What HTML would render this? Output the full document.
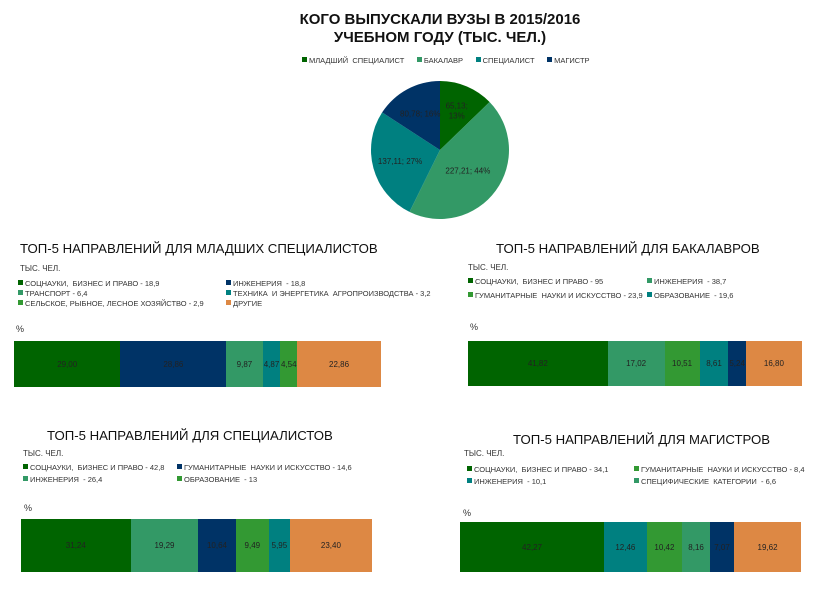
<!DOCTYPE html>
<html><head><meta charset="utf-8">
<style>
body{margin:0;width:823px;height:600px;background:#fff;position:relative;overflow:hidden;font-family:"Liberation Sans","DejaVu Sans",sans-serif;color:#222}
.abs{position:absolute;white-space:nowrap}
.title{font-weight:bold;font-size:15px;text-align:center;width:400px;left:240px;color:#111}
.ct{font-size:13.2px;color:#111}
.small{font-size:7.5px;color:#333}
.sq{display:inline-block;width:5px;height:5px;margin-right:2px;vertical-align:1px}
.bar{position:absolute;display:flex;align-items:center;justify-content:center;font-size:8px;color:#222}
</style></head><body>
<div class="abs title" style="top:11px">КОГО ВЫПУСКАЛИ ВУЗЫ В 2015/2016</div>
<div class="abs title" style="top:29px">УЧЕБНОМ ГОДУ (ТЫС. ЧЕЛ.)</div>
<div class="abs small" style="left:302px;top:56px">
<span><span class="sq" style="background:#006400"></span>МЛАДШИЙ&nbsp; СПЕЦИАЛИСТ</span>&nbsp;&nbsp;&nbsp;&nbsp;&nbsp;
<span><span class="sq" style="background:#339966"></span>БАКАЛАВР</span>&nbsp;&nbsp;&nbsp;&nbsp;&nbsp;
<span><span class="sq" style="background:#008080"></span>СПЕЦИАЛИСТ</span>&nbsp;&nbsp;&nbsp;&nbsp;&nbsp;
<span><span class="sq" style="background:#003366"></span>МАГИСТР</span>
</div>
<svg class="abs" style="left:0;top:0" width="823" height="240" id="pie"></svg>

<div class="abs ct" style="left:20px;top:241px">ТОП-5 НАПРАВЛЕНИЙ ДЛЯ МЛАДШИХ СПЕЦИАЛИСТОВ</div>
<div class="abs small" style="left:20px;top:264px;font-size:8px">ТЫС. ЧЕЛ.</div>
<div class="abs small" style="left:18px;top:279px"><span class="sq" style="background:#006400"></span>СОЦНАУКИ,&nbsp; БИЗНЕС И ПРАВО - 18,9</div>
<div class="abs small" style="left:226px;top:279px"><span class="sq" style="background:#003366"></span>ИНЖЕНЕРИЯ&nbsp; - 18,8</div>
<div class="abs small" style="left:18px;top:289px"><span class="sq" style="background:#339966"></span>ТРАНСПОРТ - 6,4</div>
<div class="abs small" style="left:226px;top:289px"><span class="sq" style="background:#008080"></span>ТЕХНИКА&nbsp; И ЭНЕРГЕТИКА&nbsp; АГРОПРОИЗВОДСТВА - 3,2</div>
<div class="abs small" style="left:18px;top:299px"><span class="sq" style="background:#339933"></span>СЕЛЬСКОЕ, РЫБНОЕ, ЛЕСНОЕ ХОЗЯЙСТВО - 2,9</div>
<div class="abs small" style="left:226px;top:299px"><span class="sq" style="background:#dd8844"></span>ДРУГИЕ</div>
<div class="abs small" style="left:16px;top:324px;font-size:9px">%</div>

<div class="abs ct" style="left:496px;top:241px">ТОП-5 НАПРАВЛЕНИЙ ДЛЯ БАКАЛАВРОВ</div>
<div class="abs small" style="left:468px;top:263px;font-size:8px">ТЫС. ЧЕЛ.</div>
<div class="abs small" style="left:468px;top:277px"><span class="sq" style="background:#006400"></span>СОЦНАУКИ,&nbsp; БИЗНЕС И ПРАВО - 95</div>
<div class="abs small" style="left:647px;top:277px"><span class="sq" style="background:#339966"></span>ИНЖЕНЕРИЯ&nbsp; - 38,7</div>
<div class="abs small" style="left:468px;top:291px"><span class="sq" style="background:#339933"></span>ГУМАНИТАРНЫЕ&nbsp; НАУКИ И ИСКУССТВО - 23,9</div>
<div class="abs small" style="left:647px;top:291px"><span class="sq" style="background:#008080"></span>ОБРАЗОВАНИЕ&nbsp; - 19,6</div>
<div class="abs small" style="left:470px;top:322px;font-size:9px">%</div>

<div class="abs ct" style="left:47px;top:428px">ТОП-5 НАПРАВЛЕНИЙ ДЛЯ СПЕЦИАЛИСТОВ</div>
<div class="abs small" style="left:23px;top:449px;font-size:8px">ТЫС. ЧЕЛ.</div>
<div class="abs small" style="left:23px;top:463px"><span class="sq" style="background:#006400"></span>СОЦНАУКИ,&nbsp; БИЗНЕС И ПРАВО - 42,8</div>
<div class="abs small" style="left:177px;top:463px"><span class="sq" style="background:#003366"></span>ГУМАНИТАРНЫЕ&nbsp; НАУКИ И ИСКУССТВО - 14,6</div>
<div class="abs small" style="left:23px;top:475px"><span class="sq" style="background:#339966"></span>ИНЖЕНЕРИЯ&nbsp; - 26,4</div>
<div class="abs small" style="left:177px;top:475px"><span class="sq" style="background:#339933"></span>ОБРАЗОВАНИЕ&nbsp; - 13</div>
<div class="abs small" style="left:24px;top:503px;font-size:9px">%</div>

<div class="abs ct" style="left:513px;top:432px">ТОП-5 НАПРАВЛЕНИЙ ДЛЯ МАГИСТРОВ</div>
<div class="abs small" style="left:464px;top:449px;font-size:8px">ТЫС. ЧЕЛ.</div>
<div class="abs small" style="left:467px;top:465px"><span class="sq" style="background:#006400"></span>СОЦНАУКИ,&nbsp; БИЗНЕС И ПРАВО - 34,1</div>
<div class="abs small" style="left:634px;top:465px"><span class="sq" style="background:#339933"></span>ГУМАНИТАРНЫЕ&nbsp; НАУКИ И ИСКУССТВО - 8,4</div>
<div class="abs small" style="left:467px;top:477px"><span class="sq" style="background:#008080"></span>ИНЖЕНЕРИЯ&nbsp; - 10,1</div>
<div class="abs small" style="left:634px;top:477px"><span class="sq" style="background:#339966"></span>СПЕЦИФИЧЕСКИЕ&nbsp; КАТЕГОРИИ&nbsp; - 6,6</div>
<div class="abs small" style="left:463px;top:508px;font-size:9px">%</div>

<script>
const pieLabels = ["65,13;|13%","227,21; 44%","137,11; 27%","80,78; 16%"];
const pieValues = [65.13, 227.21, 137.11, 80.78];
const bar1Values = [29.00, 28.86, 9.87, 4.87, 4.54, 22.86];
const bar2Values = [41.82, 17.02, 10.51, 8.61, 5.24, 16.80];
const bar3Values = [31.24, 19.29, 10.64, 9.49, 5.95, 23.40];
const bar4Values = [42.27, 12.46, 10.42, 8.16, 7.07, 19.62];

const G="#006400",SG="#339966",T="#008080",N="#003366",LG="#339933",O="#dd8844";
const pieColors=[G,SG,T,N];
const svg=document.getElementById('pie');
const NS='http://www.w3.org/2000/svg';
const cx=440,cy=150,R=69;
const tot=pieValues.reduce((a,b)=>a+b,0);
let a0=-Math.PI/2;
pieValues.forEach((v,i)=>{
  const frac=v/tot;
  const a1=a0+frac*2*Math.PI;
  const x0=cx+R*Math.cos(a0),y0=cy+R*Math.sin(a0),x1=cx+R*Math.cos(a1),y1=cy+R*Math.sin(a1);
  const p=document.createElementNS(NS,'path');
  p.setAttribute('d',`M${cx},${cy}L${x0},${y0}A${R},${R} 0 ${a1-a0>Math.PI?1:0} 1 ${x1},${y1}Z`);
  p.setAttribute('fill',pieColors[i]);
  
  
  svg.appendChild(p);
  const am=(a0+a1)/2, lr=R*(frac<0.15?0.62:(frac>0.4?0.5:0.6));
  const lx=cx+lr*Math.cos(am), ly=cy+lr*Math.sin(am);
  const lines=pieLabels[i].split('|');
  lines.forEach((ln,k)=>{
    const t=document.createElementNS(NS,'text');
    t.setAttribute('x',lx);t.setAttribute('y',ly+3+(k-(lines.length-1)/2)*10);
    t.setAttribute('text-anchor','middle');t.setAttribute('font-size','8');t.setAttribute('fill','#222');
    t.setAttribute('font-family','Liberation Sans, sans-serif');
    t.textContent=ln;
    
    
    svg.appendChild(t);
  });
  a0=a1;
});

function drawBar(values,colors,x,y,w,h,name){
  const tot=values.reduce((a,b)=>a+b,0);
  let cur=x;
  values.forEach((v,i)=>{
    const bw=v/tot*w;
    const d=document.createElement('div');
    d.className='bar';
    d.style.left=cur+'px';d.style.top=y+'px';d.style.width=bw+'px';d.style.height=h+'px';
    d.style.background=colors[i];
    d.textContent=v.toFixed(2).replace('.',',');
    
    
    document.body.appendChild(d);
    cur+=bw;
  });
}
drawBar(bar1Values,[G,N,SG,T,LG,O],14,341,367,46,'bar1');
drawBar(bar2Values,[G,SG,LG,T,N,O],468,341,334,45,'bar2');
drawBar(bar3Values,[G,SG,N,LG,T,O],21,519,351,53,'bar3');
drawBar(bar4Values,[G,T,LG,SG,N,O],460,522,341,50,'bar4');
</script>
</body></html>
